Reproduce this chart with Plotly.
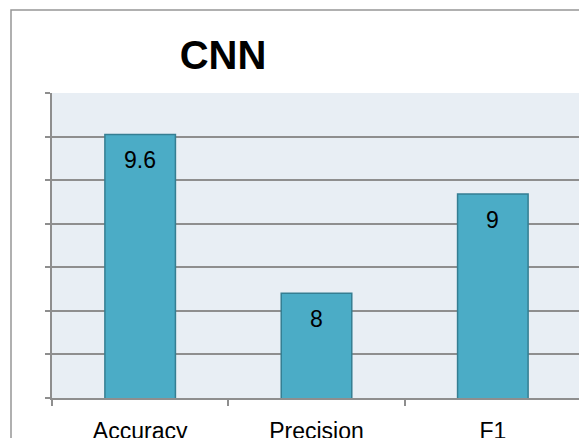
import plotly.graph_objects as go

categories = ["Accuracy", "Precision", "F1"]
values = [9.6, 8, 9]
labels = ["9.6", "8", "9"]

# axis scale (no tick labels shown)
y_min = 6.943
y_step = 0.4393
n_steps = 7
tickvals = [y_min + i * y_step for i in range(n_steps + 1)]

OFF = 8  # page body margin
W, H = 587 - OFF, 438 - OFF
L, R, T, B = 52 - OFF, 6, 93 - OFF, 40
pw, ph = W - L - R, H - T - B

fig = go.Figure()
fig.add_trace(go.Bar(
    x=categories, y=values,
    marker=dict(color="#4BACC6", line=dict(color="#357E92", width=1.5)),
    width=0.4,
    hoverinfo="skip",
))

for c, v, t in zip(categories, values, labels):
    fig.add_annotation(x=c, y=v, text=t, showarrow=False, yanchor="top",
                       yshift=-11, font=dict(family="Liberation Sans", size=23, color="#000000"))

# outer chart border
bx0, by0 = 11 - OFF, 10 - OFF
fig.add_shape(type="rect", xref="paper", yref="paper",
              x0=(bx0 - L) / pw, x1=(W + 20 - L) / pw,
              y0=(H - B - (H + 20)) / ph, y1=(H - B - by0) / ph,
              line=dict(color="#969696", width=1.5), fillcolor="rgba(0,0,0,0)", layer="below")

fig.update_layout(
    width=W, height=H,
    margin=dict(l=L, r=R, t=T, b=B, autoexpand=False),
    paper_bgcolor="#FFFFFF",
    plot_bgcolor="#E8EEF4",
    showlegend=False,
    bargap=0.6,
    title=dict(text="<b>CNN</b>", x=(223 - OFF - L) / pw, xref="paper", xanchor="center",
               y=1 - (55 - OFF) / H, yref="container", yanchor="middle",
               font=dict(family="Liberation Sans", size=40, color="#000000")),
    xaxis=dict(
        type="category",
        automargin=False,
        showgrid=False,
        showline=True, linecolor="#8E8E8E", linewidth=1.5,
        ticks="outside", tickson="boundaries", ticklen=6, tickcolor="#8E8E8E", tickwidth=1.5,
        ticklabelstandoff=12,
        tickfont=dict(family="Liberation Sans", size=23, color="#000000"),
    ),
    yaxis=dict(
        automargin=False,
        range=[y_min, y_min + n_steps * y_step + 1e-6],
        tickvals=tickvals,
        showticklabels=False,
        showgrid=True, gridcolor="#8E8E8E", gridwidth=1.5,
        showline=True, linecolor="#8E8E8E", linewidth=1.5,
        ticks="outside", ticklen=5, tickcolor="#8E8E8E", tickwidth=1.5,
        zeroline=False,
    ),
)

fig.write_html("out.html")
